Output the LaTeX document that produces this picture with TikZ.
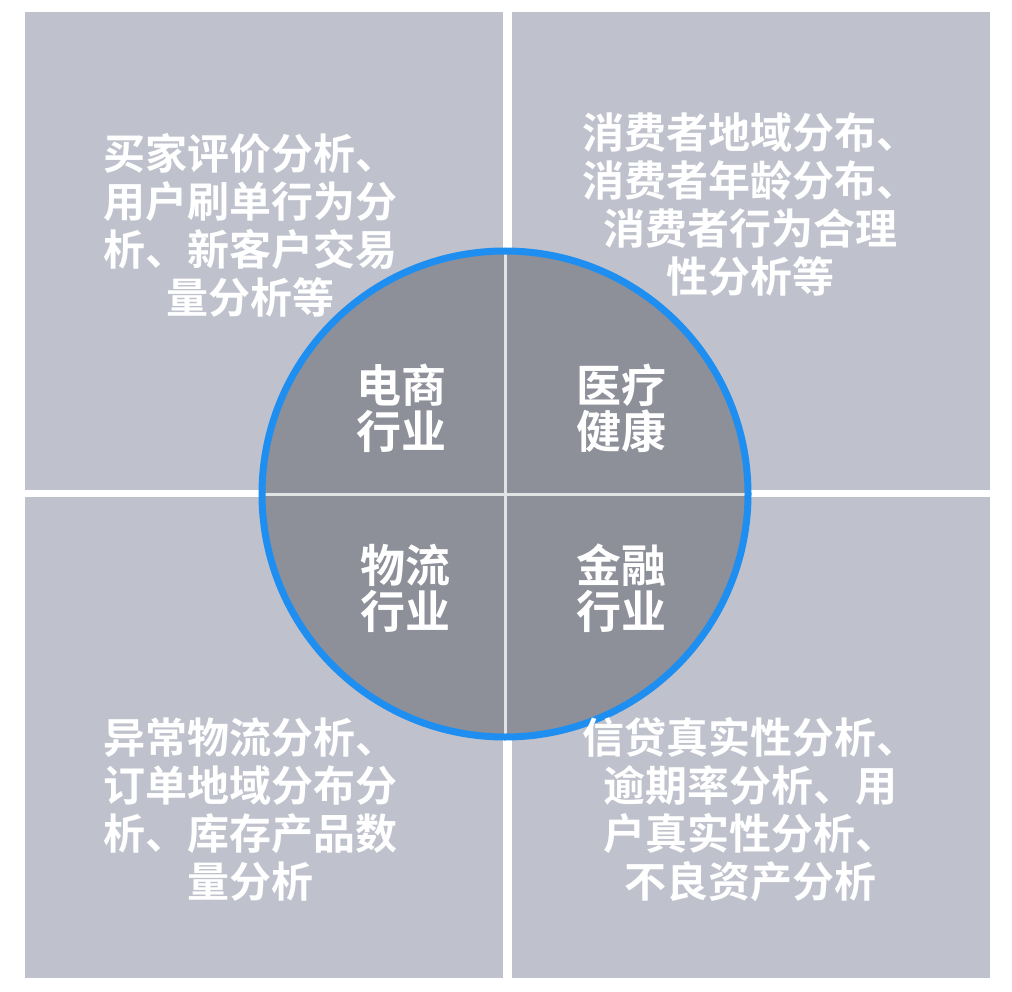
\documentclass[tikz,border=0pt]{standalone}
\usepackage{fontspec}
\newfontfamily\cjk{Noto Sans CJK SC}[BoldFont={* Bold}]
\definecolor{quad}{HTML}{BFC2CC}
\definecolor{inner}{HTML}{8D9099}
\definecolor{ring}{HTML}{1E8EF0}
\begin{document}
\begin{tikzpicture}[x=1pt,y=-1pt,
  quadbox/.style={fill=quad,draw=none},
  cornertext/.style={text=white,font=\cjk\bfseries\fontsize{42}{48}\selectfont,align=center,inner sep=0},
  centertext/.style={text=white,font=\cjk\bfseries\fontsize{45}{46}\selectfont,align=center,inner sep=0}]
\useasboundingbox (0,0) rectangle (1012,992);
\fill[white] (0,0) rectangle (1012,992);
\fill[quadbox] (25,12) rectangle (503,490);
\fill[quadbox] (512,12) rectangle (990,490);
\fill[quadbox] (25,497) rectangle (503,978);
\fill[quadbox] (512,497) rectangle (990,978);
\node[cornertext] (tl) at (250,225) {买家评价分析、\\用户刷单行为分\\析、新客户交易\\量分析等};
\node[cornertext] (tr) at (750,205) {消费者地域分布、\\消费者年龄分布、\\消费者行为合理\\性分析等};
\node[circle,fill=inner,minimum size=484,inner sep=0] (c) at (505,494) {};
\draw[white!75!inner,line width=3] (261,494) -- (749,494) (505,250) -- (505,738);
\draw[ring,line width=7] (c.center) circle (243);
\node[cornertext] (bl) at (250,810) {异常物流分析、\\订单地域分布分\\析、库存产品数\\量分析};
\node[cornertext] (br) at (750,810) {信贷真实性分析、\\逾期率分析、用\\户真实性分析、\\不良资产分析};
\node[centertext] (ds) at (401,408) {电商\\行业};
\node[centertext] (yl) at (621,408) {医疗\\健康};
\node[centertext] (wl) at (405,588) {物流\\行业};
\node[centertext] (jr) at (621,588) {金融\\行业};
\end{tikzpicture}
\end{document}
